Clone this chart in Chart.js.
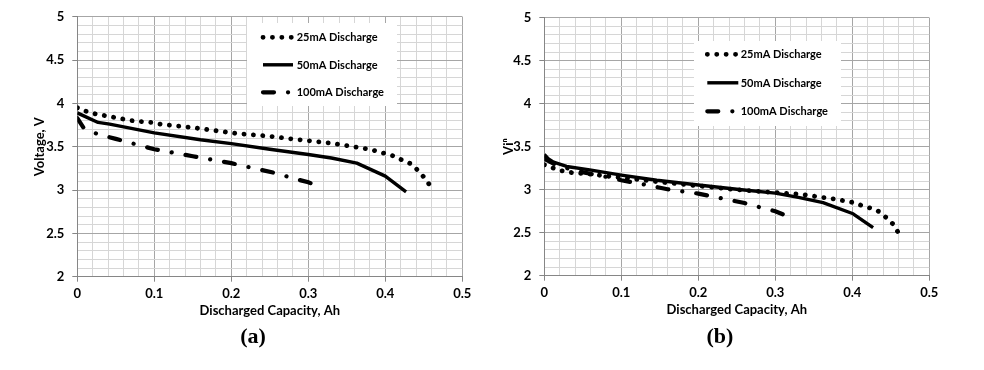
<!DOCTYPE html>
<html>
<head>
<meta charset="utf-8">
<script src="https://cdn.jsdelivr.net/npm/chart.js@4.4.1/dist/chart.umd.min.js"></script>
<style>
  html, body { margin: 0; padding: 0; background: #fff; }
  .wrap { position: absolute; top: 0; height: 370px; }
  #wrapA { left: 0; width: 490px; }
  #wrapB { left: 490px; width: 494px; }
  .caption { position: absolute; top: 323px; width: 60px; text-align: center;
             font: bold 22px "Liberation Serif", serif; color: #000; }
</style>
</head>
<body>
<div class="wrap" id="wrapA"><canvas id="chartA"></canvas></div>
<div class="wrap" id="wrapB"><canvas id="chartB"></canvas></div>
<div class="caption" style="left:223px">(a)</div>
<div class="caption" style="left:690px">(b)</div>
<script>
// Discharge curves (capacity in Ah, voltage in V)
const seriesNames = ['25mA Discharge', '50mA Discharge', '100mA Discharge'];
const xTickLabels = ['0', '0.1', '0.2', '0.3', '0.4', '0.5'];
const yTickLabels = ['2', '2.5', '3', '3.5', '4', '4.5', '5'];

// panel (a)
const capA25  = [0, 0.011, 0.023, 0.035, 0.047, 0.059, 0.071, 0.083, 0.096, 0.108, 0.15, 0.205, 0.25, 0.278, 0.33, 0.352, 0.38, 0.40, 0.412, 0.423, 0.434, 0.443, 0.451, 0.459];
const voltA25 = [3.95, 3.91, 3.88, 3.86, 3.84, 3.82, 3.80, 3.79, 3.78, 3.76, 3.72, 3.655, 3.62, 3.59, 3.54, 3.51, 3.47, 3.42, 3.39, 3.34, 3.30, 3.22, 3.14, 3.04];
const capA50  = [0, 0.027, 0.042, 0.1, 0.16, 0.2, 0.25, 0.3, 0.33, 0.363, 0.40, 0.427];
const voltA50 = [3.89, 3.78, 3.76, 3.66, 3.58, 3.535, 3.47, 3.41, 3.37, 3.31, 3.16, 2.98];
const capA100  = [0, 0.008, 0.025, 0.05, 0.1, 0.15, 0.2, 0.23, 0.26, 0.28, 0.3, 0.313];
const voltA100 = [3.83, 3.72, 3.65, 3.59, 3.47, 3.39, 3.31, 3.25, 3.19, 3.135, 3.09, 3.04];

// panel (b)
const capB25  = [0, 0.012, 0.0225, 0.035, 0.06, 0.1, 0.15, 0.2, 0.25, 0.293, 0.33, 0.354, 0.378, 0.402, 0.414, 0.426, 0.436, 0.446, 0.454, 0.461];
const voltB25 = [3.29, 3.25, 3.22, 3.20, 3.18, 3.14, 3.09, 3.045, 3.0, 2.97, 2.95, 2.92, 2.89, 2.85, 2.81, 2.78, 2.74, 2.66, 2.59, 2.48];
const capB50  = [0, 0.005, 0.012, 0.029, 0.059, 0.1, 0.146, 0.2, 0.25, 0.3, 0.33, 0.362, 0.401, 0.427];
const voltB50 = [3.41, 3.36, 3.32, 3.27, 3.23, 3.17, 3.11, 3.055, 3.005, 2.96, 2.91, 2.85, 2.72, 2.56];
const capB100  = [0, 0.015, 0.04, 0.08, 0.1, 0.13, 0.16, 0.2, 0.23, 0.26, 0.28, 0.3, 0.316];
const voltB100 = [3.36, 3.29, 3.22, 3.15, 3.11, 3.06, 3.005, 2.955, 2.90, 2.845, 2.795, 2.75, 2.69];

const FONT = 'Lato, "Liberation Sans", sans-serif';
const MAJOR = '#a6a6a6', MINOR = '#d6d6d6', AXIS = '#868686';

function pts(xs, ys) { return xs.map((x, i) => ({ x: x, y: ys[i] })); }
function labelFor(list, v) {
  const m = list.find(l => Math.abs(parseFloat(l) - v) < 1e-6);
  return m === undefined ? '' : m;
}

function makeDatasets(c25, v25, c50, v50, c100, v100) {
  const base = { showLine: true, pointRadius: 0, borderColor: '#000', backgroundColor: '#000', fill: false, tension: 0 };
  return [
    Object.assign({}, base, { label: seriesNames[0], data: pts(c25, v25), borderWidth: 4.8, borderDash: [0.1, 9.3], borderCapStyle: 'round' }),
    Object.assign({}, base, { label: seriesNames[1], data: pts(c50, v50), borderWidth: 3.4, borderCapStyle: 'butt', borderJoinStyle: 'round' }),
    Object.assign({}, base, { label: seriesNames[2], data: pts(c100, v100), borderWidth: 4.2, borderDash: [11, 14, 0.1, 14], borderCapStyle: 'round' })
  ];
}

// white legend box drawn inside the plot, lines stacked like the original
const boxLegend = {
  id: 'boxLegend',
  afterDraw(chart, args, o) {
    const ctx = chart.ctx, a = chart.chartArea;
    const bx = a.left + o.left, by = a.top + o.top;
    ctx.save();
    ctx.fillStyle = '#fff';
    ctx.fillRect(bx, by, o.width, o.height);
    chart.data.datasets.forEach((ds, i) => {
      const y = by + o.firstRow + i * o.rowGap;
      ctx.beginPath();
      ctx.setLineDash(ds.borderDash || []);
      ctx.lineCap = ds.borderCapStyle || 'butt';
      ctx.lineWidth = ds.borderWidth;
      ctx.strokeStyle = ds.borderColor;
      ctx.moveTo(bx + o.sampleX, y);
      ctx.lineTo(bx + o.sampleX + o.sampleLen, y);
      ctx.stroke();
      ctx.setLineDash([]);
      ctx.fillStyle = '#000';
      ctx.font = 'bold 11px ' + FONT;
      ctx.textBaseline = 'middle';
      ctx.textAlign = 'left';
      ctx.fillText(ds.label, bx + o.textX, y + 0.5);
    });
    ctx.restore();
  }
};

function makeChart(id, datasets, cfg) {
  return new Chart(document.getElementById(id), {
    type: 'scatter',
    data: { datasets: datasets },
    plugins: [boxLegend],
    options: {
      responsive: true,
      maintainAspectRatio: false,
      animation: false,
      layout: { padding: { left: 0, top: cfg.top, right: cfg.right, bottom: 0 } },
      plugins: {
        legend: { display: false },
        tooltip: { enabled: false },
        boxLegend: cfg.legend
      },
      scales: {
        x: {
          type: 'linear', min: 0, max: 0.5,
          afterFit: s => { s.height = cfg.xHeight; },
          ticks: {
            stepSize: 0.02, autoSkip: false, maxRotation: 0, padding: 4, color: '#000',
            font: { family: FONT, size: 13, weight: 'bold' },
            callback: v => labelFor(xTickLabels, v)
          },
          grid: {
            lineWidth: 1, tickLength: 5,
            color: c => labelFor(xTickLabels, c.tick.value) ? MAJOR : MINOR,
            tickColor: c => labelFor(xTickLabels, c.tick.value) ? AXIS : 'rgba(0,0,0,0)'
          },
          border: { color: AXIS, width: 1 },
          title: {
            display: true, text: 'Discharged Capacity, Ah', color: '#000',
            font: { family: FONT, size: 13, weight: 'bold' },
            padding: { top: 0, bottom: cfg.xTitlePad }
          }
        },
        y: {
          type: 'linear', min: 2, max: 5,
          afterFit: s => { s.width = cfg.yWidth; },
          ticks: {
            stepSize: 0.1, autoSkip: false, padding: 8, color: '#000',
            font: { family: FONT, size: 13, weight: 'bold' },
            callback: v => labelFor(yTickLabels, v)
          },
          grid: {
            lineWidth: 1, tickLength: 5,
            color: c => labelFor(yTickLabels, c.tick.value) ? MAJOR : MINOR,
            tickColor: c => labelFor(yTickLabels, c.tick.value) ? AXIS : 'rgba(0,0,0,0)'
          },
          border: { color: AXIS, width: 1 },
          title: {
            display: true, text: cfg.yTitle, color: '#000',
            font: { family: FONT, size: 13, weight: 'bold' },
            padding: { top: cfg.yTitlePad, bottom: 0 }
          }
        }
      }
    }
  });
}

makeChart('chartA', makeDatasets(capA25, voltA25, capA50, voltA50, capA100, voltA100), {
  top: 16.7, right: 27.7, xHeight: 93.3, yWidth: 77.3, xTitlePad: 51.2, yTitlePad: 32.5,
  yTitle: 'Voltage, V',
  legend: { left: 169.7, top: 6.3, width: 150, height: 83, firstRow: 14.3, rowGap: 27.5, sampleX: 16, sampleLen: 30, textX: 49.7 }
});

makeChart('chartB', makeDatasets(capB25, voltB25, capB50, voltB50, capB100, voltB100), {
  top: 17.7, right: 54.7, xHeight: 94.3, yWidth: 54.3, xTitlePad: 52.2, yTitlePad: 11.5,
  yTitle: 'Viⁿ',
  legend: { left: 149.7, top: 23.3, width: 147, height: 85, firstRow: 13.3, rowGap: 28.5, sampleX: 13.3, sampleLen: 31, textX: 46.7 }
});
</script>
</body>
</html>
